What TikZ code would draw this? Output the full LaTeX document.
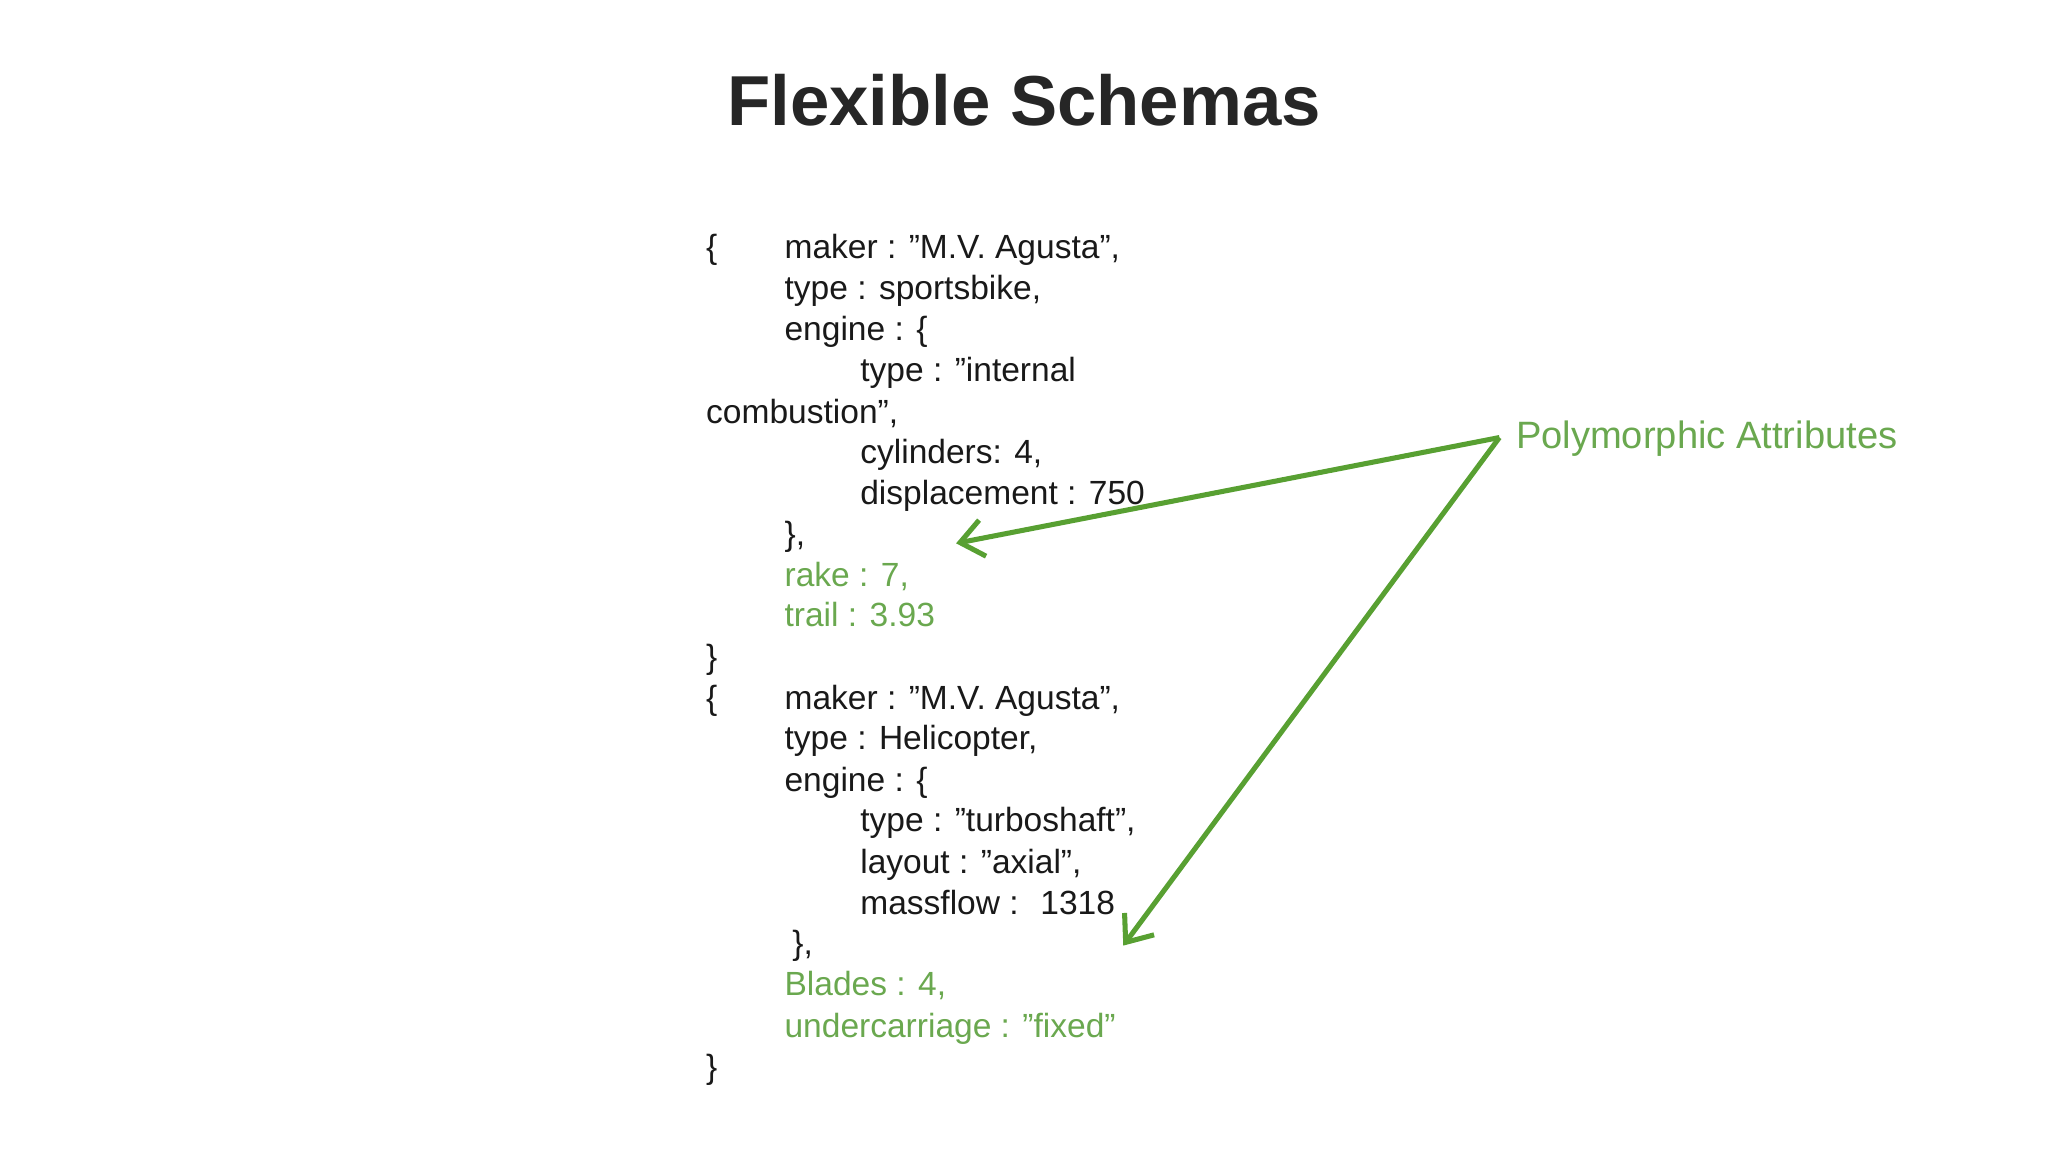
\documentclass[tikz,border=0pt]{standalone}
\usepackage{fontspec}
\setmainfont{Liberation Sans}
\usetikzlibrary{arrows.meta}
\definecolor{grn}{RGB}{106,168,79}
\definecolor{arr}{RGB}{88,160,50}
\newcommand\dq{\char34\relax}
\begin{document}
\begin{tikzpicture}[x=0.01cm,y=0.01cm,
  code/.style={anchor=base west,inner sep=0pt,font=\fontsize{7.3pt}{8pt}\selectfont,text=black!90},
  gcode/.style={code,text=grn},
  arrowline/.style={draw=arr,line width=1.1pt,-{Straight Barb[length=5pt,width=8pt,line width=1.1pt]}}]
\useasboundingbox (0,0) rectangle (1568,882);
\node[anchor=base,inner sep=0pt,font=\bfseries\fontsize{15.4pt}{17pt}\selectfont,text=black!85] (title) at (784,882-96) {Flexible Schemas};
\def\L#1{882-#1-8}
\node[code] (b1) at (540,\L{190}) {\{};
\node[code] (l1) at (600,\L{190}) {maker : \dq M.V. Agusta\dq,};
\node[code] (l2) at (600,\L{221}) {type : sportsbike,};
\node[code] (l3) at (600,\L{253}) {engine : \{};
\node[code] (l4) at (658,\L{284}) {type : ”internal};
\node[code] (l5) at (540,\L{316}) {combustion\dq,};
\node[code] (l6) at (658,\L{347}) {cylinders: 4,};
\node[code] (l7) at (658,\L{378}) {displacement : 750};
\node[code] (l8) at (600,\L{410}) {\},};
\node[gcode] (l9) at (600,\L{441}) {rake : 7,};
\node[gcode] (l10) at (600,\L{472}) {trail : 3.93};
\node[code] (b2) at (540,\L{504}) {\}};
\node[code] (b3) at (540,\L{535}) {\{};
\node[code] (m1) at (600,\L{535}) {maker : \dq M.V. Agusta\dq,};
\node[code] (m2) at (600,\L{566}) {type : Helicopter,};
\node[code] (m3) at (600,\L{598}) {engine : \{};
\node[code] (m4) at (658,\L{629}) {type : \dq turboshaft”,};
\node[code] (m5) at (658,\L{661}) {layout : \dq axial”,};
\node[code] (m6) at (658,\L{692}) {massflow : \ 1318};
\node[code] (m7) at (606,\L{723}) {\},};
\node[gcode] (m8) at (600,\L{754}) {Blades : 4,};
\node[gcode] (m9) at (600,\L{786}) {undercarriage : \dq fixed\dq};
\node[code] (b4) at (540,\L{818}) {\}};
\node[gcode,anchor=west,font=\fontsize{8.3pt}{9pt}\selectfont] (pa) at (1160,882-336) {Polymorphic Attributes};
\coordinate (src) at (1148,882-335);
\coordinate (t1) at (732,882-416);
\coordinate (t2) at (860,882-724);
\draw[arrowline] (src) -- (t1);
\draw[arrowline] (src) -- (t2);
\end{tikzpicture}
\end{document}
